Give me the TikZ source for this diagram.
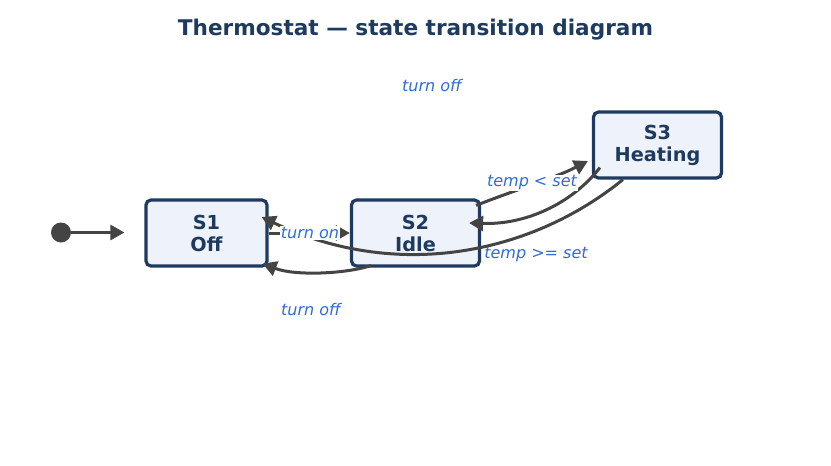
\documentclass[tikz,border=0pt]{standalone}
\usepackage{fontspec}
\setmainfont{DejaVu Sans}
\usetikzlibrary{arrows.meta,calc}
\definecolor{navy}{HTML}{1E3A5F}
\definecolor{boxfill}{HTML}{EEF3FB}
\definecolor{edgec}{HTML}{444444}
\definecolor{lblc}{HTML}{2F6BDF}
\begin{document}
\begin{tikzpicture}[x=1pt,y=-1pt,
  state/.style={draw=navy, line width=3.2pt, fill=boxfill, rounded corners=5pt,
    minimum height=66pt, align=center, inner sep=0pt, text=navy,
    font=\fontsize{19.3}{22}\selectfont\bfseries},
  conn/.style={draw=edgec, line width=3pt, -{Triangle[length=14pt,width=15pt]}},
  lbl/.style={font=\fontsize{16}{19}\selectfont\itshape, text=lblc, inner sep=1pt},
  lblbg/.style={lbl, fill=white}
]
\useasboundingbox (0,0) rectangle (831,466);
\fill[white] (0,0) rectangle (831,466);

\node[font=\fontsize{21.6}{25}\selectfont\bfseries, text=navy] (title) at (415.5,30) {Thermostat — state transition diagram};

\node[state, minimum width=121pt] (s1) at (206.5,233) {S1\\Off};
\node[state, minimum width=128pt] (s2) at (415.5,233) {S2\\Idle};
\node[state, minimum width=128pt] (s3) at (657.5,145) {S3\\Heating};

\node[circle, fill=edgec, minimum size=20pt, inner sep=0pt] (start) at (61,232.5) {};
\draw[conn, shorten >=20pt] (start) -- (start -| s1.west);

% S3 -> S1 (long curve)
\draw[conn] ($(s3.south west)+(31,0)$) .. controls (530,255) and (396,281) .. ($(s1.east)+(-7,-16)$);
% S2 -> S1
\draw[conn] ($(s2.south west)+(21,-2)$) .. controls (345,274) and (295,276) .. ($(s1.south east)+(-6,-4)$);
% S3 -> S2
\draw[conn] ($(s3.south west)+(8,-12)$) .. controls (575,200) and (530,225) .. ($(s2.east)+(-12,-10)$);
% S2 -> S3
\draw[conn] ($(s2.north east)+(-5,7)$) .. controls (515,190) and (555,178) .. ($(s3.west)+(-4,16)$);
% S1 -> S2
\draw[conn] (s1.east) -- (s2.west);

\node[lblbg] (lon) at (310,233) {turn on};
\node[lblbg] (lless) at (532,183) {temp < set};
\node[lbl] (lge) at (536,255) {temp >= set};
\node[lbl] (loff1) at (432,86) {turn off};
\node[lbl] (loff2) at (311,310) {turn off};
\end{tikzpicture}
\end{document}
